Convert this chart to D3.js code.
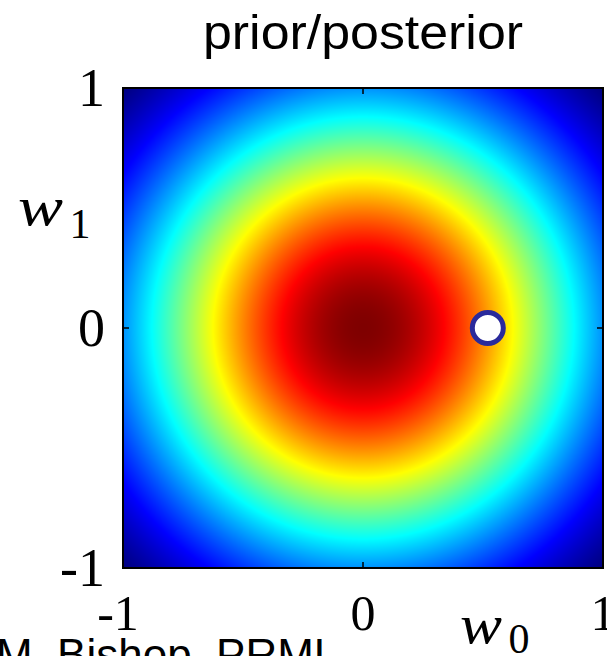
<!DOCTYPE html>
<meta charset="utf-8">
<script src="https://d3js.org/d3.v7.min.js"></script>
<style>
  body { margin: 0; background: #fff; overflow: hidden; }
</style>
<div id="my_dataviz"></div>
<script>

// ---- data ----
var xTicks = [-1, 0, 1];
var yTicks = [-1, 0, 1];
var xDomain = [-1, 1];
var yDomain = [-1, 1];
// isotropic gaussian prior N(w | mean, alpha^-1 I)
var priorMean = [0, 0];
var priorAlpha = 2;
// observed / highlighted point (w0, w1)
var markerPoint = [0.52, 0];
// matlab "jet" colormap
var jetStops = [0, 0.125, 0.375, 0.625, 0.875, 1];
var jetColors = ["#00007f", "#0000ff", "#00ffff", "#ffff00", "#ff0000", "#7f0000"];

// ---- layout ----
var W = 607, H = 656;
var plot = {left: 123, top: 88, size: 480};

var svg = d3.select("#my_dataviz")
  .append("svg")
    .attr("width", W)
    .attr("height", H);

var x = d3.scaleLinear().domain(xDomain).range([plot.left, plot.left + plot.size]);
var y = d3.scaleLinear().domain(yDomain).range([plot.top + plot.size, plot.top]);

// density on a pixel grid
var n = plot.size;
var gx = d3.scaleLinear().domain([0, n - 1]).range(xDomain);
var gy = d3.scaleLinear().domain([0, n - 1]).range([yDomain[1], yDomain[0]]);
var values = new Float64Array(n * n);
for (var j = 0; j < n; j++) {
  for (var i = 0; i < n; i++) {
    var d0 = gx(i) - priorMean[0], d1 = gy(j) - priorMean[1];
    values[j * n + i] = Math.exp(-0.5 * priorAlpha * (d0 * d0 + d1 * d1));
  }
}
var ext = d3.extent(values);
var norm = d3.scaleLinear().domain(ext).range([0, 1]);
var jet = d3.scaleLinear().domain(jetStops).range(jetColors).clamp(true);

var canvas = document.createElement("canvas");
canvas.width = n; canvas.height = n;
var ctx = canvas.getContext("2d");
var img = ctx.createImageData(n, n);
for (var k = 0; k < n * n; k++) {
  var c = d3.rgb(jet(norm(values[k])));
  img.data[k * 4] = c.r;
  img.data[k * 4 + 1] = c.g;
  img.data[k * 4 + 2] = c.b;
  img.data[k * 4 + 3] = 255;
}
ctx.putImageData(img, 0, 0);

svg.append("image")
  .attr("x", x(xDomain[0]))
  .attr("y", y(yDomain[1]))
  .attr("width", plot.size)
  .attr("height", plot.size)
  .attr("preserveAspectRatio", "none")
  .attr("href", canvas.toDataURL());

// axes box
svg.append("rect")
  .attr("x", x(xDomain[0]))
  .attr("y", y(yDomain[1]))
  .attr("width", plot.size)
  .attr("height", plot.size)
  .attr("fill", "none")
  .attr("stroke", "#000")
  .attr("stroke-width", 2);

// inner tick marks (bottom/top, left/right)
var tickLen = 6;
svg.selectAll("xtick")
  .data(xTicks)
  .enter()
  .append("path")
    .attr("d", function(d){ return "M" + x(d) + "," + y(yDomain[0]) + "v" + (-tickLen) +
                                  "M" + x(d) + "," + y(yDomain[1]) + "v" + tickLen })
    .attr("stroke", "#000")
    .attr("stroke-width", 1.5);
svg.selectAll("ytick")
  .data(yTicks)
  .enter()
  .append("path")
    .attr("d", function(d){ return "M" + x(xDomain[0]) + "," + y(d) + "h" + tickLen +
                                  "M" + x(xDomain[1]) + "," + y(d) + "h" + (-tickLen) })
    .attr("stroke", "#000")
    .attr("stroke-width", 1.5);

// tick labels
var serif = "'Liberation Serif', 'DejaVu Serif', serif";
svg.selectAll("ylab")
  .data(yTicks)
  .enter()
  .append("text")
    .attr("x", 105)
    .attr("y", function(d){ return y(d) + 18 })
    .attr("text-anchor", "end")
    .attr("font-family", serif)
    .attr("font-size", "54px")
    .text(function(d){ return d });

svg.selectAll("xlab")
  .data(xTicks)
  .enter()
  .append("text")
    .attr("x", function(d){ return x(d) })
    .attr("dx", function(d){ return d < 0 ? "-0.1em" : 0 })
    .attr("y", 630)
    .attr("text-anchor", "middle")
    .attr("font-family", serif)
    .attr("font-size", "50px")
    .text(function(d){ return d });

// axis names  w1 / w0
svg.append("text")
  .attr("x", 18).attr("y", 225)
  .attr("font-family", serif).attr("font-style", "italic")
  .attr("font-size", "54px")
  .attr("textLength", 45).attr("lengthAdjust", "spacingAndGlyphs")
  .text("w");
svg.append("text")
  .attr("x", 80).attr("y", 238)
  .attr("text-anchor", "middle")
  .attr("font-family", serif).attr("font-size", "42px")
  .text("1");

svg.append("text")
  .attr("x", 460).attr("y", 643)
  .attr("font-family", serif).attr("font-style", "italic")
  .attr("font-size", "54px")
  .attr("textLength", 42).attr("lengthAdjust", "spacingAndGlyphs")
  .text("w");
svg.append("text")
  .attr("x", 519).attr("y", 653)
  .attr("text-anchor", "middle")
  .attr("font-family", serif).attr("font-size", "42px")
  .text("0");

// title
svg.append("text")
  .attr("x", 363).attr("y", 49)
  .attr("text-anchor", "middle")
  .attr("font-family", "'Liberation Sans', Arial, sans-serif")
  .attr("font-size", "48px")
  .attr("textLength", 320).attr("lengthAdjust", "spacingAndGlyphs")
  .text("prior/posterior");

// marker
svg.append("circle")
  .attr("cx", x(markerPoint[0]))
  .attr("cy", y(markerPoint[1]))
  .attr("r", 15.5)
  .attr("fill", "#fff")
  .attr("stroke", "#2a2a9c")
  .attr("stroke-width", 5);

// source credit (cut off at the bottom)
svg.append("text")
  .attr("x", -4).attr("y", 670)
  .attr("font-family", "'Liberation Sans', Arial, sans-serif")
  .attr("font-size", "44px")
  .text("M. Bishop, PRML");

</script>
